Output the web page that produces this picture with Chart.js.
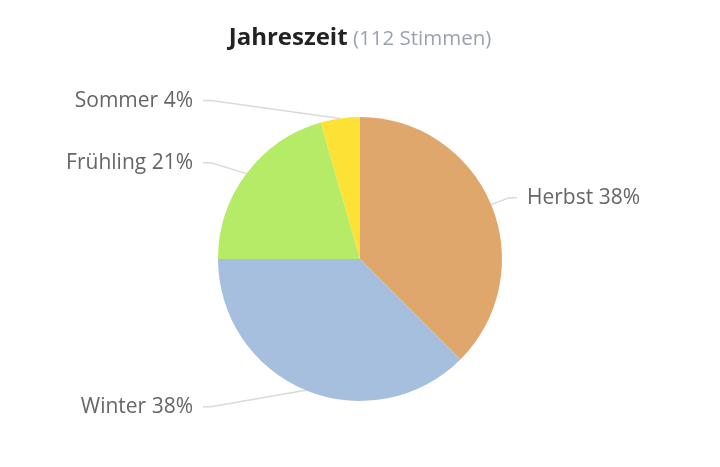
<!DOCTYPE html>
<html>
<head>
<meta charset="utf-8">
<script src="https://cdn.jsdelivr.net/npm/chart.js@4.4.1/dist/chart.umd.min.js"></script>
<style>
  html, body { margin: 0; padding: 0; background: #fff; }
  #wrap { width: 720px; height: 467px; }
</style>
</head>
<body>
<div id="wrap"><canvas id="cPie" width="720" height="467"></canvas></div>
<script>
// ===== DATA =====
const titleText = 'Jahreszeit';
const subText = '(112 Stimmen)';
const seasons = ['Herbst', 'Winter', 'Frühling', 'Sommer'];
const votes = [42, 42, 23, 5];
const colors = ['#dfa76b', '#a6bfdf', '#b5eb67', '#fde235'];

const total = votes.reduce((a, b) => a + b, 0);
const pct = votes.map(v => Math.round(v / total * 100));

// ===== TITEL =====
const titlePlugin = {
    id: 'titleMix',
    afterDraw(chart) {
        const ctx = chart.ctx;
        ctx.save();
        ctx.textBaseline = 'alphabetic';
        ctx.font = 'bold 24px "Open Sans"';
        const w1 = ctx.measureText(titleText).width;
        ctx.font = '20.5px "Open Sans"';
        const w2 = ctx.measureText(' ' + subText).width;
        let x = chart.width / 2 - (w1 + w2) / 2;
        const y = 45;
        ctx.textAlign = 'left';
        ctx.font = 'bold 24px "Open Sans"';
        ctx.fillStyle = '#222';
        ctx.fillText(titleText, x, y);
        ctx.font = '20.5px "Open Sans"';
        ctx.fillStyle = '#9aa3ad';
        ctx.fillText(' ' + subText, x + w1, y);
        ctx.restore();
    }
};

// ===== LABEL + GARIS =====
const labelPlugin = {
    id: 'pieLabels',
    afterDatasetsDraw(chart) {
        const ctx = chart.ctx;
        const meta = chart.getDatasetMeta(0);
        ctx.save();
        ctx.font = '21px "Open Sans"';
        ctx.textBaseline = 'middle';
        meta.data.forEach((arc, i) => {
            const { x: cx, y: cy, outerRadius: r, startAngle, endAngle } = arc.getProps(['x', 'y', 'outerRadius', 'startAngle', 'endAngle'], true);
            const mid = (startAngle + endAngle) / 2;
            const right = Math.cos(mid) >= 0;
            const ly = cy + Math.sin(mid) * (r + 18);
            const lx = right ? cx + r + 25 : cx - r - 25;
            const ex = cx + Math.cos(mid) * r;
            const ey = cy + Math.sin(mid) * r;
            const sx = right ? lx - 10 : lx + 10;

            ctx.strokeStyle = '#dadada';
            ctx.lineWidth = 1.5;
            ctx.beginPath();
            ctx.moveTo(sx, ly);
            ctx.lineTo(right ? sx - 8 : sx + 8, ly);
            ctx.lineTo(ex, ey);
            ctx.stroke();

            ctx.fillStyle = '#666';
            ctx.textAlign = right ? 'left' : 'right';
            ctx.fillText(seasons[i] + ' ' + pct[i] + '%', lx, ly);
        });
        ctx.restore();
    }
};

document.addEventListener('DOMContentLoaded', () => {
    new Chart(document.getElementById('cPie'), {
        type: 'pie',
        data: {
            labels: seasons,
            datasets: [{
                data: votes,
                backgroundColor: colors,
                borderWidth: 0
            }]
        },
        options: {
            responsive: false,
            animation: false,
            layout: { padding: { top: 117, bottom: 66, left: 100, right: 100 } },
            plugins: {
                legend: { display: false },
                tooltip: { enabled: false },
                title: { display: false }
            }
        },
        plugins: [titlePlugin, labelPlugin]
    });
});
</script>
</body>
</html>
